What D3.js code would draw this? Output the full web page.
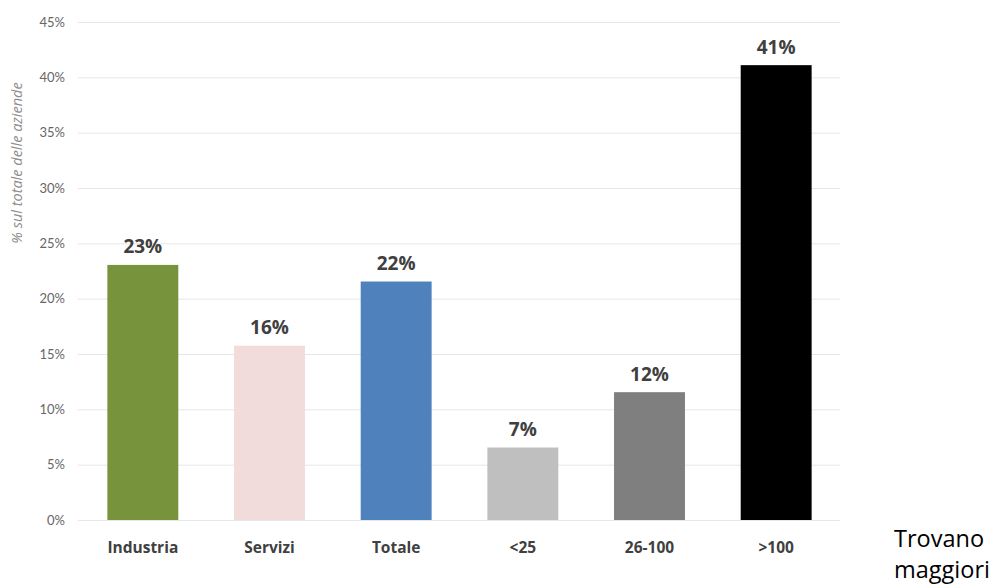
<!DOCTYPE html>
<html><head><meta charset="utf-8">
<script src="https://cdn.jsdelivr.net/npm/d3@7"></script>
<style>body{margin:0;background:#fff;}svg{display:block;}</style>
</head><body>
<svg id="c" width="997" height="585"></svg>
<script>
const categories = ["Industria","Servizi","Totale","<25","26-100",">100"];
const values = [23.05, 15.75, 21.55, 6.55, 11.55, 41.1];
const labels = ["23%","16%","22%","7%","12%","41%"];
const colors = ["#77933c","#f2dcdb","#4f81bd","#bfbfbf","#7f7f7f","#000000"];
const yTicks = [0,5,10,15,20,25,30,35,40,45];

const svg = d3.select("#c");
const x = d3.scaleBand().domain(categories).range([79.5,839.5]).paddingInner(0.44).paddingOuter(0.22);
const y = d3.scaleLinear().domain([0,45]).range([520,22]);

svg.append("g").selectAll("line").data(yTicks).join("line")
  .attr("x1",78).attr("x2",840).attr("y1",d=>y(d)+0.5).attr("y2",d=>y(d)+0.5)
  .attr("stroke","#e6e6e6").attr("stroke-width",1);

svg.append("g").selectAll("text").data(yTicks).join("text")
  .attr("x",65).attr("y",d=>y(d)+4.5).attr("text-anchor","end")
  .attr("font-family","Lato, sans-serif").attr("font-size",13).attr("fill","#666")
  .text(d=>d+"%");

svg.append("text").attr("transform","translate(22,163) rotate(-90)").attr("text-anchor","middle")
  .attr("font-family","'Open Sans', sans-serif").attr("font-style","italic").attr("font-size",14.5).attr("fill","#8c8c8c")
  .text("% sul totale delle aziende");

svg.append("g").selectAll("rect").data(categories).join("rect")
  .attr("x",d=>x(d)).attr("width",x.bandwidth())
  .attr("y",(d,i)=>y(values[i])).attr("height",(d,i)=>y(0)-y(values[i]))
  .attr("fill",(d,i)=>colors[i]);

svg.append("g").selectAll("text").data(categories).join("text")
  .attr("x",d=>x(d)+x.bandwidth()/2).attr("y",(d,i)=>y(values[i])-11.5).attr("text-anchor","middle")
  .attr("font-family","'Open Sans', sans-serif").attr("font-weight","bold").attr("font-size",19).attr("fill","#404040")
  .text((d,i)=>labels[i]);

svg.append("g").selectAll("text").data(categories).join("text")
  .attr("x",d=>x(d)+x.bandwidth()/2).attr("y",553).attr("text-anchor","middle")
  .attr("font-family","'Open Sans', sans-serif").attr("font-weight","bold").attr("font-size",15.5).attr("fill","#404040")
  .text(d=>d);

svg.append("text").attr("x",894).attr("y",547).attr("font-family","'Open Sans', sans-serif").attr("font-size",23.5).attr("fill","#000").text("Trovano");
svg.append("text").attr("x",894).attr("y",578).attr("font-family","'Open Sans', sans-serif").attr("font-size",23.5).attr("fill","#000").text("maggiori");
</script>
</body></html>
